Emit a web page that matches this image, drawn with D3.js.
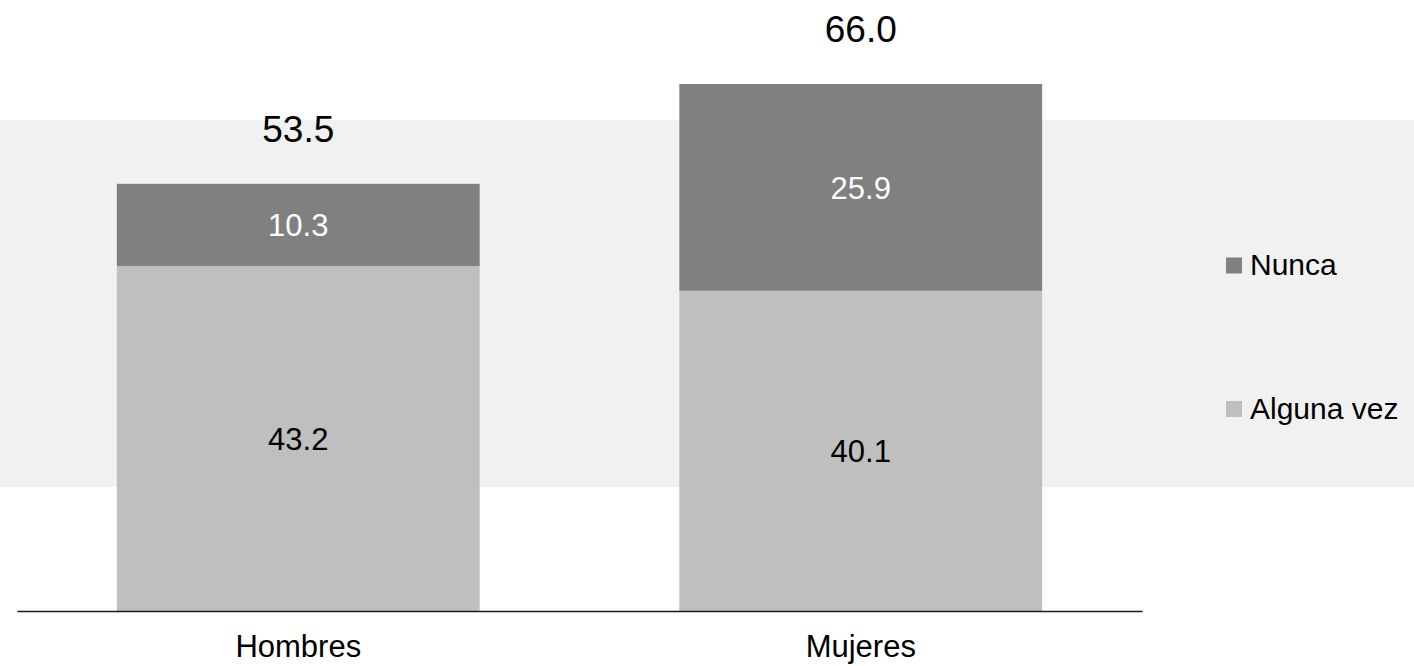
<!DOCTYPE html>
<html>
<head>
<meta charset="utf-8">
<script src="https://cdn.jsdelivr.net/npm/d3@7"></script>
<style>
  html, body { margin: 0; padding: 0; background: #ffffff; }
  svg { display: block; font-family: "Liberation Sans", Arial, sans-serif; }
</style>
</head>
<body>
<svg id="chart" width="1414" height="666"></svg>
<script>
const categories = ["Hombres", "Mujeres"];
const alguna = [43.2, 40.1];
const nunca = [10.3, 25.9];
const totals = [53.5, 66.0];
const seriesNames = ["Nunca", "Alguna vez"];
const seriesColors = ["#808080", "#bfbfbf"];

const svg = d3.select("#chart");
const W = 1414, H = 666;

// background band
svg.append("rect").attr("x", 0).attr("y", 120).attr("width", W).attr("height", 367).attr("fill", "#f1f1f1");

const x = d3.scaleBand().domain(categories).range([17, 1142]).paddingInner(0.355).paddingOuter(0.1775);
const y = d3.scaleLinear().domain([0, 66]).range([611, 84]);

const rows = categories.map((c, i) => ({ cat: c, "Alguna vez": alguna[i], "Nunca": nunca[i], total: totals[i] }));
const stack = d3.stack().keys(["Alguna vez", "Nunca"]);
const stacked = stack(rows);

const colorOf = { "Nunca": seriesColors[0], "Alguna vez": seriesColors[1] };
const labelColor = { "Nunca": "#ffffff", "Alguna vez": "#000000" };

stacked.forEach(layer => {
  const g = svg.append("g");
  g.selectAll("rect").data(layer).join("rect")
    .attr("x", d => x(d.data.cat))
    .attr("width", x.bandwidth())
    .attr("y", d => y(d[1]))
    .attr("height", d => y(d[0]) - y(d[1]))
    .attr("fill", colorOf[layer.key]);
  g.selectAll("text").data(layer).join("text")
    .attr("x", d => x(d.data.cat) + x.bandwidth() / 2)
    .attr("y", d => (y(d[0]) + y(d[1])) / 2)
    .attr("dy", "0.36em")
    .attr("text-anchor", "middle")
    .attr("font-size", 31)
    .attr("fill", labelColor[layer.key])
    .text(d => (d[1] - d[0]).toFixed(1));
});

// totals
svg.append("g").selectAll("text").data(rows).join("text")
  .attr("x", d => x(d.cat) + x.bandwidth() / 2)
  .attr("y", d => y(d.total) - 42)
  .attr("text-anchor", "middle")
  .attr("font-size", 37)
  .attr("fill", "#000")
  .text(d => d.total.toFixed(1));

// x axis
const axis = svg.append("g").attr("transform", "translate(0,611)")
  .call(d3.axisBottom(x).tickSize(0).tickSizeOuter(0).tickPadding(24));
axis.select(".domain").attr("stroke", "#1a1a1a").attr("stroke-width", 1.5);
axis.selectAll("text").attr("font-size", 31).attr("fill", "#000")
  .attr("font-family", "'Liberation Sans', Arial, sans-serif");

// legend
const legendY = [257.5, 401];
const lg = svg.append("g");
seriesNames.forEach((s, i) => {
  lg.append("rect").attr("x", 1226).attr("y", legendY[i]).attr("width", 16).attr("height", 16).attr("fill", seriesColors[i]);
  lg.append("text").attr("x", 1250).attr("y", legendY[i] + 17.5).attr("font-size", 30).attr("fill", "#000").text(s);
});
</script>
</body>
</html>
